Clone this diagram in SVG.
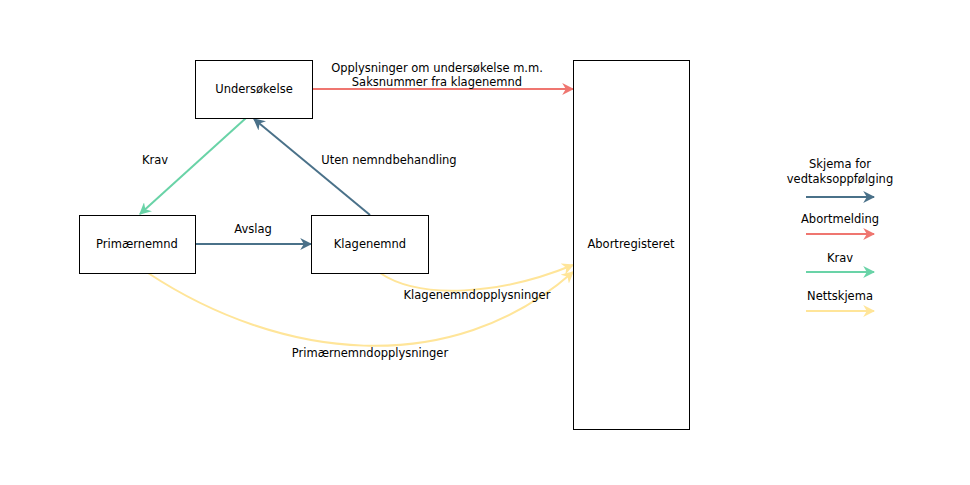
<svg xmlns="http://www.w3.org/2000/svg" width="970" height="485" viewBox="0 0 970 485">
<style>
text{font-family:"DejaVu Sans","Verdana",sans-serif;font-size:11.5px;fill:#000;text-anchor:middle;dominant-baseline:central}
.box{fill:#fff;stroke:#000;stroke-width:1}
.ln{fill:none;stroke-width:2}
.b{stroke:#4A7189}.r{stroke:#EF7670}.g{stroke:#69D3A7}.y{stroke:#FFE599}
</style>
<defs>
<marker id="mb" viewBox="0 0 10 10" refX="9" refY="5" markerWidth="6" markerHeight="6" orient="auto" markerUnits="strokeWidth"><path d="M0,0 L10,5 L0,10 L3,5 z" fill="#4A7189"/></marker>
<marker id="mr" viewBox="0 0 10 10" refX="9" refY="5" markerWidth="6" markerHeight="6" orient="auto" markerUnits="strokeWidth"><path d="M0,0 L10,5 L0,10 L3,5 z" fill="#EF7670"/></marker>
<marker id="mg" viewBox="0 0 10 10" refX="9" refY="5" markerWidth="6" markerHeight="6" orient="auto" markerUnits="strokeWidth"><path d="M0,0 L10,5 L0,10 L3,5 z" fill="#69D3A7"/></marker>
<marker id="my" viewBox="0 0 10 10" refX="9" refY="5" markerWidth="6" markerHeight="6" orient="auto" markerUnits="strokeWidth"><path d="M0,0 L10,5 L0,10 L3,5 z" fill="#FFE599"/></marker>
</defs>
<rect width="970" height="485" fill="#fff"/>
<g id="connectors">
<path class="ln r" d="M312,89 L573,89" marker-end="url(#mr)"/>
<path class="ln g" d="M246,118 L140,214" marker-end="url(#mg)"/>
<path class="ln b" d="M370,215 L254,119" marker-end="url(#mb)"/>
<path class="ln b" d="M195,244 L311,244" marker-end="url(#mb)"/>
<path class="ln y" d="M380,273 C420,300 500,295 573,265" marker-end="url(#my)"/>
<path class="ln y" d="M148,273 C280,360 450,380 573,272" marker-end="url(#my)"/>
<text x="437" y="68">Opplysninger om undersøkelse m.m.</text>
<text x="437" y="82">Saksnummer fra klagenemnd</text>
<text x="155" y="160">Krav</text>
<text x="389" y="160">Uten nemndbehandling</text>
<text x="253" y="229">Avslag</text>
<text x="477" y="295">Klagenemndopplysninger</text>
<text x="370" y="353">Primærnemndopplysninger</text>
</g>
<g id="undersokelse"><rect class="box" x="195.5" y="60.5" width="117" height="58"/><text x="254" y="89">Undersøkelse</text></g>
<g id="primaernemnd"><rect class="box" x="79.5" y="215.5" width="116" height="58"/><text x="137" y="244">Primærnemnd</text></g>
<g id="klagenemnd"><rect class="box" x="311.5" y="215.5" width="117" height="58"/><text x="370" y="244">Klagenemnd</text></g>
<g id="abortregisteret"><rect class="box" x="573.5" y="60.5" width="116" height="369"/><text x="631" y="244">Abortregisteret</text></g>
<g id="legend">
<text x="840" y="164">Skjema for</text>
<text x="840" y="179">vedtaksoppfølging</text>
<path class="ln b" d="M806,197 L874,197" marker-end="url(#mb)"/>
<text x="840" y="219">Abortmelding</text>
<path class="ln r" d="M806,234 L874,234" marker-end="url(#mr)"/>
<text x="840" y="258">Krav</text>
<path class="ln g" d="M806,272 L874,272" marker-end="url(#mg)"/>
<text x="840" y="296">Nettskjema</text>
<path class="ln y" d="M806,311 L874,311" marker-end="url(#my)"/>
</g>
</svg>
